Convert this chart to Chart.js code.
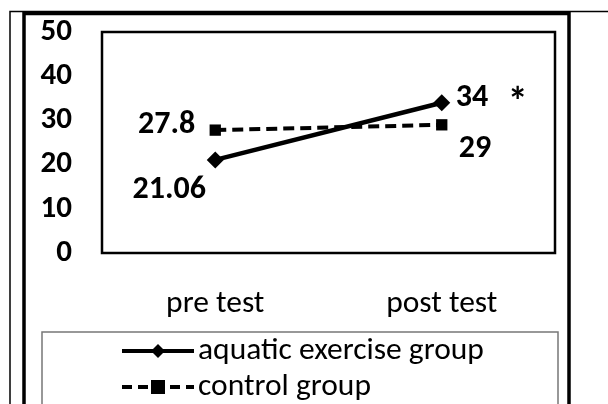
<!DOCTYPE html>
<html>
<head>
<meta charset="utf-8">
<script src="https://cdn.jsdelivr.net/npm/chart.js@4.4.0/dist/chart.umd.min.js"></script>
<style>
  html, body { margin: 0; padding: 0; background: #fff; }
  #wrap { width: 608px; height: 404px; }
</style>
</head>
<body>
<div id="wrap"><canvas id="chart" width="608" height="404"></canvas></div>
<script>
// data
const categories = ['pre test', 'post test'];
const aquaticValues = [21.06, 34];
const controlValues = [27.8, 29];
const seriesNames = ['aquatic exercise group', 'control group'];
const yTicks = [0, 10, 20, 30, 40, 50];

const FONT = 'Carlito, Lato, sans-serif';

// frame, box round the plot, value labels and the legend
const decorPlugin = {
    id: 'decor',
    beforeDraw(chart) {
        const ctx = chart.ctx;
        ctx.save();
        ctx.strokeStyle = '#000';
        // thin outer lines
        ctx.lineWidth = 1.5;
        ctx.beginPath();
        ctx.moveTo(10, 404); ctx.lineTo(10, 11.5); ctx.lineTo(608, 11.5);
        ctx.stroke();
        // thick frame
        ctx.lineWidth = 3.5;
        ctx.beginPath();
        ctx.moveTo(24, 404); ctx.lineTo(24, 13.5); ctx.lineTo(569, 13.5); ctx.lineTo(569, 404);
        ctx.stroke();
        ctx.restore();
    },
    afterDraw(chart) {
        const ctx = chart.ctx;
        const a = chart.chartArea;
        ctx.save();
        // plot box
        ctx.strokeStyle = '#000';
        ctx.lineWidth = 2.5;
        ctx.strokeRect(a.left, a.top, a.right - a.left, a.bottom - a.top);

        // value labels
        ctx.fillStyle = '#000';
        ctx.font = 'bold 32px ' + FONT;
        ctx.textBaseline = 'middle';
        const aq = chart.getDatasetMeta(0).data;
        const co = chart.getDatasetMeta(1).data;
        ctx.textAlign = 'center';
        ctx.fillText(String(aquaticValues[0]), aq[0].x - 46, aq[0].y + 30);
        ctx.textAlign = 'left';
        ctx.fillText(String(aquaticValues[1]), aq[1].x + 14, aq[1].y - 5);
        ctx.textAlign = 'right';
        ctx.fillText(String(controlValues[0]), co[0].x - 20, co[0].y - 5);
        ctx.textAlign = 'left';
        ctx.fillText(String(controlValues[1]), co[1].x + 17, co[1].y + 24);
        // significance mark
        ctx.font = 'bold 40px ' + FONT;
        ctx.textAlign = 'center';
        ctx.fillText('*', aq[1].x + 76, aq[1].y + 2);

        // legend
        ctx.strokeStyle = '#777';
        ctx.lineWidth = 1.5;
        ctx.beginPath();
        ctx.moveTo(42, 404); ctx.lineTo(42, 332); ctx.lineTo(558, 332); ctx.lineTo(558, 404);
        ctx.stroke();

        ctx.strokeStyle = '#000';
        ctx.fillStyle = '#000';
        const rows = [351, 387];
        // solid + diamond
        ctx.lineWidth = 4;
        ctx.setLineDash([]);
        ctx.beginPath(); ctx.moveTo(122, rows[0]); ctx.lineTo(194, rows[0]); ctx.stroke();
        ctx.beginPath();
        ctx.moveTo(158, rows[0] - 7); ctx.lineTo(165, rows[0]); ctx.lineTo(158, rows[0] + 7); ctx.lineTo(151, rows[0]);
        ctx.closePath(); ctx.fill();
        // dashed + square
        ctx.lineWidth = 4;
        ctx.setLineDash([10, 6]);
        ctx.beginPath(); ctx.moveTo(122, rows[1]); ctx.lineTo(194, rows[1]); ctx.stroke();
        ctx.setLineDash([]);
        ctx.fillRect(151, rows[1] - 7, 14, 14);

        ctx.font = '31.5px ' + FONT;
        ctx.textAlign = 'left';
        ctx.textBaseline = 'middle';
        ctx.fillText(seriesNames[0], 198, rows[0]);
        ctx.fillText(seriesNames[1], 198, rows[1]);
        ctx.restore();
    }
};

const ctx = document.getElementById('chart').getContext('2d');
const chart = new Chart(ctx, {
    type: 'line',
    data: {
        labels: categories,
        datasets: [{
            label: seriesNames[0],
            data: aquaticValues,
            borderColor: '#000',
            backgroundColor: '#000',
            borderWidth: 4.5,
            pointStyle: 'rectRot',
            pointRadius: 8.5,
            pointBorderWidth: 0,
            tension: 0
        }, {
            label: seriesNames[1],
            data: controlValues,
            borderColor: '#000',
            backgroundColor: '#000',
            borderWidth: 4,
            borderDash: [11, 6],
            pointStyle: 'rect',
            pointRadius: 8,
            pointBorderWidth: 0,
            tension: 0
        }]
    },
    options: {
        responsive: false,
        animation: false,
        layout: { padding: { left: 30, top: 32, right: 53, bottom: 0 } },
        plugins: {
            legend: { display: false },
            tooltip: { enabled: false }
        },
        scales: {
            y: {
                min: 0,
                max: 50,
                afterBuildTicks(scale) {
                    scale.ticks = yTicks.map(v => ({ value: v }));
                },
                afterFit(scale) {
                    scale.width = 72;
                    scale.paddingTop = 0;
                    scale.paddingBottom = 0;
                },
                grid: { display: false, drawTicks: false },
                border: { display: false },
                ticks: {
                    padding: 30,
                    color: '#000',
                    font: { family: FONT, size: 31, weight: 'bold' }
                }
            },
            x: {
                offset: true,
                afterFit(scale) { scale.height = 151; },
                grid: { display: false, drawTicks: false },
                border: { display: false },
                ticks: {
                    padding: 32,
                    color: '#000',
                    maxRotation: 0,
                    font: { family: FONT, size: 31.5 }
                }
            }
        }
    },
    plugins: [decorPlugin]
});
</script>
</body>
</html>
